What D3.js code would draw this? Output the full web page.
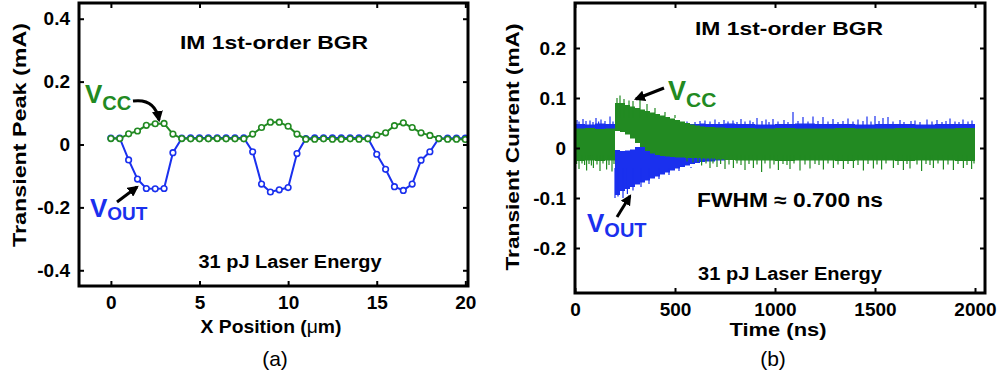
<!DOCTYPE html>
<html>
<head>
<meta charset="utf-8">
<script src="https://cdn.jsdelivr.net/npm/d3@7"></script>
<style>
  body { margin: 0; background: #fff; }
  svg text { font-family: "Liberation Sans", Arial, sans-serif; }
</style>
</head>
<body>
<svg id="chart" width="1000" height="380"></svg>
<script>
// ---- panel (a): transient peak vs laser x position ----
var xPos = [0,0.5,1,1.5,2,2.5,3,3.5,4,4.5,5,5.5,6,6.5,7,7.5,8,8.5,9,9.5,10,
            10.5,11,11.5,12,12.5,13,13.5,14,14.5,15,15.5,16,16.5,17,17.5,18,18.5,19,19.5,20];
var vccPeak = [0.019,0.019,0.034,0.043,0.061,0.066,0.067,0.033,0.019,0.018,0.018,0.018,0.019,0.018,0.018,0.018,
               0.033,0.054,0.071,0.071,0.058,0.033,0.017,0.017,0.018,0.017,0.017,0.018,0.017,0.018,
               0.030,0.037,0.060,0.069,0.054,0.037,0.029,0.019,0.017,0.017,0.016];
var voutPeak = [0.020,0.020,-0.049,-0.110,-0.140,-0.141,-0.140,-0.026,0.020,0.021,0.021,0.021,0.021,0.021,0.021,0.021,
                -0.023,-0.126,-0.151,-0.144,-0.137,-0.029,0.019,0.021,0.021,0.021,0.021,0.021,0.021,0.020,
                -0.031,-0.079,-0.134,-0.146,-0.126,-0.050,-0.023,0.019,0.020,0.020,0.020];
var aXTicks = [0,5,10,15,20];
var aYTicks = [-0.4,-0.2,0,0.2,0.4];

// ---- panel (b): transient current vs time (noise envelope read per time bin) ----
var tGrid   = [0,50,100,150,200,225,250,275,300,325,350,375,400,425,450,475,500,525,550,575,600,625,650,
               700,750,800,900,1000,1100,1200,1300,1400,1500,1600,1700,1800,1900,2000];
var voutHi  = [0.048,0.047,0.049,0.048,-0.004,-0.006,-0.005,-0.003,0.002,0.008,0.016,0.025,0.033,0.039,0.044,0.046,
               0.047,0.048,0.048,0.048,0.048,0.049,0.048,0.048,0.049,0.048,0.047,0.048,0.049,0.048,0.048,0.047,
               0.048,0.048,0.047,0.048,0.048,0.048];
var voutLo  = [-0.020,-0.020,-0.020,-0.020,-0.094,-0.086,-0.082,-0.078,-0.073,-0.069,-0.065,-0.061,-0.057,-0.053,
               -0.049,-0.045,-0.041,-0.038,-0.035,-0.032,-0.030,-0.028,-0.027,-0.025,-0.023,-0.021,-0.020,-0.020,
               -0.020,-0.020,-0.020,-0.020,-0.020,-0.020,-0.020,-0.020,-0.020,-0.020];
var vccHi   = [0.039,0.040,0.038,0.039,0.090,0.090,0.086,0.083,0.080,0.077,0.074,0.071,0.068,0.065,0.062,0.059,
               0.056,0.053,0.050,0.047,0.045,0.043,0.042,0.041,0.040,0.040,0.039,0.040,0.039,0.039,0.040,0.039,
               0.039,0.040,0.039,0.039,0.040,0.039];
var vccLo   = [-0.026,-0.025,-0.026,-0.025,0.034,0.032,0.027,0.019,0.010,0.002,-0.006,-0.011,-0.014,-0.016,-0.017,
               -0.018,-0.019,-0.019,-0.020,-0.020,-0.020,-0.021,-0.021,-0.023,-0.024,-0.025,-0.025,-0.026,-0.025,
               -0.025,-0.026,-0.025,-0.025,-0.026,-0.025,-0.025,-0.026,-0.025];
// single-sample spikes sticking out of the bands [time ns, mA]
var voutUpSpikes = [[10,0.056],[20,0.053],[40,0.058],[55,0.054],[75,0.055],[90,0.052],[105,0.060],[118,0.053],
                    [130,0.057],[150,0.054],[175,0.063],[190,0.053],[560,0.053],[600,0.052],[625,0.054],[650,0.055],
                    [675,0.053],[700,0.057],[720,0.052],[745,0.056],[765,0.053],[790,0.055],[810,0.052],[830,0.058],
                    [850,0.053],[875,0.055],[890,0.052],[910,0.060],[935,0.054],[955,0.057],[970,0.052],[990,0.058],
                    [1015,0.053],[1045,0.056],[1065,0.052],[1090,0.072],[1115,0.054],[1140,0.062],[1165,0.053],
                    [1190,0.063],[1215,0.054],[1240,0.062],[1265,0.053],[1290,0.058],[1315,0.052],[1340,0.054],
                    [1365,0.059],[1390,0.053],[1415,0.057],[1440,0.054],[1460,0.063],[1480,0.053],[1500,0.064],
                    [1520,0.054],[1540,0.060],[1565,0.062],[1590,0.053],[1625,0.056],[1645,0.052],[1680,0.054],
                    [1700,0.055],[1725,0.052],[1760,0.057],[1785,0.053],[1810,0.056],[1835,0.052],[1855,0.054],
                    [1875,0.059],[1900,0.053],[1920,0.052],[1940,0.057],[1965,0.053],[1985,0.055]];
var voutDownSpikes = [[200,-0.100],[215,-0.097],[240,-0.100],[262,-0.092],[290,-0.085],[330,-0.078],[370,-0.072],
                      [420,-0.062],[470,-0.054],[520,-0.046],[580,-0.038]];
var vccUpSpikes = [[210,0.100],[225,0.105],[245,0.098],[270,0.095],[290,0.094],[325,0.102],[360,0.088],[400,0.080],
                   [450,0.072],[500,0.066]];
var vccDownSpikes = [[8,-0.032],[20,-0.042],[35,-0.031],[48,-0.034],[58,-0.045],[70,-0.032],[82,-0.035],[92,-0.040],
                     [110,-0.033],[125,-0.046],[140,-0.031],[158,-0.043],[170,-0.034],[185,-0.047],[195,-0.032],
                     [560,-0.027],[590,-0.029],[615,-0.028],[633,-0.035],[655,-0.031],[675,-0.040],[690,-0.031],
                     [710,-0.038],[728,-0.032],[750,-0.042],[770,-0.033],[792,-0.040],[810,-0.031],[830,-0.034],
                     [850,-0.044],[870,-0.032],[892,-0.040],[910,-0.033],[933,-0.048],[950,-0.031],[975,-0.041],
                     [995,-0.033],[1017,-0.044],[1040,-0.032],[1060,-0.034],[1075,-0.042],[1095,-0.031],
                     [1125,-0.045],[1150,-0.033],[1175,-0.041],[1200,-0.032],[1220,-0.034],[1242,-0.043],
                     [1265,-0.031],[1292,-0.040],[1315,-0.033],[1342,-0.042],[1365,-0.032],[1392,-0.040],
                     [1415,-0.034],[1442,-0.045],[1465,-0.032],[1492,-0.041],[1510,-0.033],[1533,-0.043],
                     [1555,-0.031],[1592,-0.040],[1615,-0.034],[1642,-0.044],[1660,-0.032],[1675,-0.041],
                     [1710,-0.033],[1733,-0.046],[1755,-0.032],[1775,-0.034],[1792,-0.040],[1815,-0.031],
                     [1842,-0.043],[1865,-0.033],[1892,-0.044],[1915,-0.032],[1942,-0.040],[1960,-0.034],
                     [1983,-0.042],[1995,-0.031]];
var bXTicks = [0,500,1000,1500,2000];
var bYTicks = [-0.2,-0.1,0,0.1,0.2];

var GREEN = "#228a22", BLUE = "#1a30ee";
var svg = d3.select("#chart");

var defs = svg.append("defs");
defs.append("marker").attr("id", "head")
    .attr("viewBox", "0 0 10 10").attr("refX", 8).attr("refY", 5)
    .attr("markerWidth", 11).attr("markerHeight", 11)
    .attr("markerUnits", "userSpaceOnUse").attr("orient", "auto")
  .append("path").attr("d", "M0,0L10,5L0,10z").attr("fill", "#000");

function styleAxis(sel) {
  sel.select(".domain").remove();
  sel.selectAll(".tick line").attr("stroke", "#000").attr("stroke-width", 2);
  sel.selectAll(".tick text").attr("fill", "#000")
     .style("font-size", "19px").style("font-weight", "bold")
     .style("font-family", "'Liberation Sans', Arial, sans-serif");
}

function drawFrame(x, y, xTicks, yTicks, yFmt) {
  var x0 = x.range()[0], x1 = x.range()[1], y0 = y.range()[0], y1 = y.range()[1];
  var g = svg.append("g");
  g.append("g").attr("transform", "translate(0," + y0 + ")")
    .call(d3.axisBottom(x).tickValues(xTicks).tickSize(-5).tickPadding(10).tickFormat(d => String(d)))
    .call(styleAxis);
  g.append("g").attr("transform", "translate(0," + y1 + ")")
    .call(d3.axisTop(x).tickValues(xTicks).tickSize(-5).tickFormat(""))
    .call(styleAxis);
  g.append("g").attr("transform", "translate(" + x0 + ",0)")
    .call(d3.axisLeft(y).tickValues(yTicks).tickSize(-5).tickPadding(9).tickFormat(yFmt))
    .call(styleAxis);
  g.append("g").attr("transform", "translate(" + x1 + ",0)")
    .call(d3.axisRight(y).tickValues(yTicks).tickSize(-5).tickFormat(""))
    .call(styleAxis);
  g.append("rect").attr("x", x0).attr("y", y1).attr("width", x1 - x0).attr("height", y0 - y1)
    .attr("fill", "none").attr("stroke", "#000").attr("stroke-width", 3);
}

function label(txt, x, y, size, opts) {
  opts = opts || {};
  var t = svg.append("text").attr("x", x).attr("y", y)
    .attr("text-anchor", opts.anchor || "middle")
    .style("font-size", size + "px").style("font-weight", opts.weight || "bold")
    .attr("fill", opts.fill || "#000").text(txt);
  if (opts.len) t.attr("textLength", opts.len).attr("lengthAdjust", "spacingAndGlyphs");
  if (opts.rotate) t.attr("transform", "rotate(-90," + x + "," + y + ")");
  return t;
}

function subLabel(main, sub, x, y, bigSize, smallSize, drop, color) {
  var t = svg.append("text").attr("x", x).attr("y", y).attr("fill", color).style("font-weight", "bold");
  t.append("tspan").style("font-size", bigSize + "px").text(main);
  t.append("tspan").attr("dy", drop).style("font-size", smallSize + "px").text(sub);
}

function arrow(d) {
  svg.append("path").attr("d", d).attr("fill", "none").attr("stroke", "#000")
    .attr("stroke-width", 3).attr("marker-end", "url(#head)");
}

// ================= panel (a) =================
var xa = d3.scaleLinear().domain([-1.8, 20.15]).range([79, 468]);
var ya = d3.scaleLinear().domain([-0.45, 0.45]).range([286, 3]);
var peakLine = d3.line().x((d, i) => xa(xPos[i])).y(d => ya(d));

[[voutPeak, BLUE], [vccPeak, GREEN]].forEach(function (s) {
  svg.append("path").datum(s[0]).attr("d", peakLine)
    .attr("fill", "none").attr("stroke", s[1]).attr("stroke-width", 2);
  svg.append("g").selectAll("circle").data(s[0]).enter().append("circle")
    .attr("cx", (d, i) => xa(xPos[i])).attr("cy", d => ya(d)).attr("r", 2.8)
    .attr("fill", "#fff").attr("stroke", s[1]).attr("stroke-width", 1.6);
});

drawFrame(xa, ya, aXTicks, aYTicks, d => d === 0 ? "0" : d.toFixed(1));

label("IM 1st-order BGR", 274, 49, 19, {len: 188});
label("31 pJ Laser Energy", 290, 268, 18, {len: 183});
var xl = label("", 271, 333, 19, {len: 141});
xl.append("tspan").text("X Position (");
xl.append("tspan").style("font-weight", "normal").text("\u03bc");
xl.append("tspan").text("m)");
label("Transient Peak (mA)", 26, 135, 19, {len: 224, rotate: true});
label("(a)", 275, 366, 21, {weight: "normal"});

subLabel("V", "CC", 85, 103, 26, 20, 7, GREEN);
subLabel("V", "OUT", 90, 217, 26, 19, 3, BLUE);
arrow("M133,101 Q155,98 159,120");
arrow("M117,202 L137,187");

// ================= panel (b) =================
var xb = d3.scaleLinear().domain([0, 2050]).range([575, 985]);
var yb = d3.scaleLinear().domain([-0.29, 0.29]).range([293, 3]);
var band = function (hi, lo) {
  return d3.area().curve(d3.curveStepAfter)
    .x((d, i) => xb(tGrid[i])).y0((d, i) => yb(lo[i])).y1((d, i) => yb(hi[i]))(tGrid);
};
function spikes(list, base, color) {
  svg.append("g").selectAll("line").data(list).enter().append("line")
    .attr("x1", d => xb(d[0])).attr("x2", d => xb(d[0]))
    .attr("y1", yb(base)).attr("y2", d => yb(d[1]))
    .attr("stroke", color).attr("stroke-width", 1.2);
}

svg.append("path").attr("d", band(voutHi, voutLo)).attr("fill", BLUE);
spikes(voutUpSpikes, 0.03, BLUE);
spikes(voutDownSpikes, -0.04, BLUE);
svg.append("path").attr("d", band(vccHi, vccLo)).attr("fill", GREEN);
spikes(vccUpSpikes, 0.06, GREEN);
spikes(vccDownSpikes, -0.015, GREEN);

drawFrame(xb, yb, bXTicks, bYTicks, d => d === 0 ? "0" : d.toFixed(1));

label("IM 1st-order BGR", 789, 35, 19, {len: 188});
label("FWHM \u2248 0.700 ns", 790, 207, 20, {len: 186});
label("31 pJ Laser Energy", 790, 280, 18, {len: 184});
label("Time (ns)", 778, 336, 19, {len: 97});
label("Transient Current (mA)", 519, 147, 19, {len: 247, rotate: true});
label("(b)", 773, 366, 21, {weight: "normal"});

subLabel("V", "CC", 668, 100, 27, 21, 7, GREEN);
subLabel("V", "OUT", 587, 232, 26, 20, 5, BLUE);
arrow("M664,88 L636,99");
arrow("M617,217 L630,196");
</script>
</body>
</html>
